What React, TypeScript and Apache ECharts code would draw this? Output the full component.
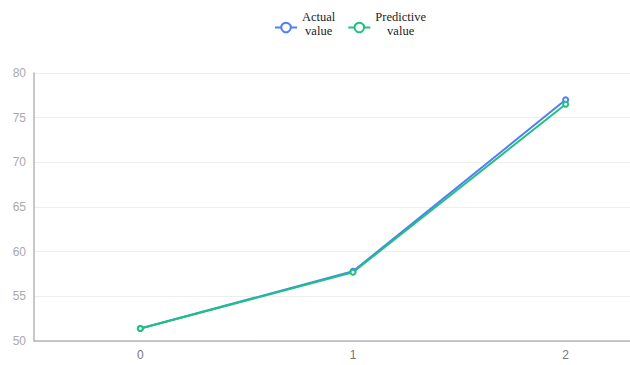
import React, { useEffect, useRef } from "react";
import * as echarts from "echarts";

const categories = ["0", "1", "2"];
const actualValues = [51.4, 57.8, 77.0];
const predictedValues = [51.4, 57.7, 76.5];
const seriesNames = ["Actual value", "Predictive value"];
const legendLines: Record<string, string[]> = {
  "Actual value": ["Actual", "value"],
  "Predictive value": ["Predictive", "value"],
};

const serif = "'Liberation Serif', 'Times New Roman', serif";

export default function App() {
  const ref = useRef<HTMLDivElement>(null);

  useEffect(() => {
    if (!ref.current) return;
    const chart = echarts.init(ref.current, undefined, { renderer: "svg" });
    chart.setOption({
      animation: false,
      color: ["#4f7ef8", "#1ec27f"],
      legend: {
        top: 5,
        left: 269,
        itemWidth: 22,
        itemHeight: 12,
        itemGap: 12,
        formatter: (name: string) =>
          (legendLines[name] || [name]).map((l) => "{c|" + l + "}").join("\n"),
        textStyle: {
          fontFamily: serif,
          fontSize: 12,
          color: "#222",
          padding: [0, 0, 8, 0],
          rich: {
            c: {
              align: "center",
              fontFamily: serif,
              fontSize: 12.5,
              lineHeight: 14,
              color: "#222",
            },
          },
        },
        data: seriesNames,
      },
      grid: { left: 34, right: 28, top: 73, bottom: 24 },
      xAxis: {
        type: "category",
        data: categories,
        boundaryGap: true,
        axisLine: { lineStyle: { color: "#b4b4bb", width: 1.5 } },
        axisTick: { show: false },
        axisLabel: { color: "#777", fontSize: 12, margin: 8 },
      },
      yAxis: {
        type: "value",
        min: 50,
        max: 80,
        interval: 5,
        axisLine: { show: true, lineStyle: { color: "#b4b4bb", width: 1.5 } },
        axisTick: { show: false },
        axisLabel: { color: "#aaa", fontSize: 12, margin: 8 },
        splitLine: { lineStyle: { color: "#eeeeee" } },
      },
      series: [
        {
          name: seriesNames[0],
          type: "line",
          data: actualValues,
          symbol: "emptyCircle",
          symbolSize: 5,
          lineStyle: { width: 2 },
        },
        {
          name: seriesNames[1],
          type: "line",
          data: predictedValues,
          symbol: "emptyCircle",
          symbolSize: 5,
          lineStyle: { width: 2 },
        },
      ],
    });
    return () => chart.dispose();
  }, []);

  return (
    <div
      style={{
        position: "absolute",
        left: 0,
        top: 0,
        width: 630,
        height: 365,
        overflow: "hidden",
      }}
    >
      <div ref={ref} style={{ width: 700, height: 365 }} />
    </div>
  );
}
